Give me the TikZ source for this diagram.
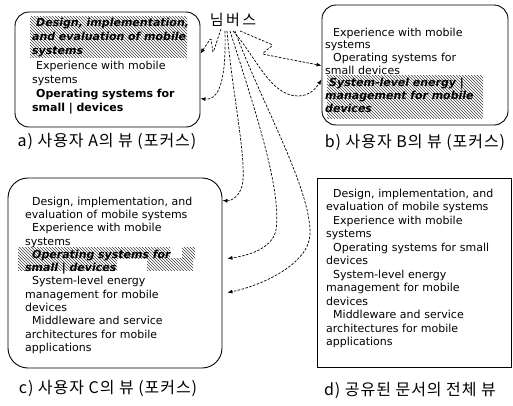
\documentclass[tikz,border=0pt]{standalone}
\usepackage{fontspec}
\setmainfont{DejaVu Sans}
\newfontfamily\krfont[LetterSpace=6]{Noto Sans CJK KR}
\newfontfamily\hubfont[LetterSpace=16]{Noto Sans CJK KR}
\usetikzlibrary{arrows.meta,patterns}
\newcommand\bi{\bfseries\itshape}

\begin{document}
\begin{tikzpicture}[x=1pt,y=-1pt,
  viewbox/.style={draw, line width=0.9pt, rounded corners=14pt, inner sep=0},
  docbox/.style={draw, line width=0.9pt, inner sep=0},
  itemtext/.style={anchor=north west, inner sep=0, align=left, text width=200pt},
  caption/.style={font=\krfont\fontsize{16}{19}\selectfont, inner sep=0},
  conn/.style={line width=0.7pt, dash pattern=on 2.5pt off 1.5pt, -{Latex[length=5pt,width=4pt]}},
  hatch/.style={pattern=north west lines, pattern color=black!75},
]
\useasboundingbox (0,0) rectangle (513,405);

% the four views of the shared document
\node[viewbox, minimum width=185, minimum height=115] (boxa) at (107.5,69.5) {};
\node[viewbox, minimum width=186, minimum height=120] (boxb) at (415,65) {};
\node[viewbox, rounded corners=20pt, minimum width=214, minimum height=190] (boxc) at (115,273) {};
\node[docbox, minimum width=194, minimum height=189] (boxd) at (414,272.5) {};

% focus highlights
\fill[hatch] (30,16) rectangle (187,57);
\fill[hatch] (327,75) rectangle (483,118);
\fill[hatch] (18,247) rectangle (170,258);
\fill[hatch] (182,247) rectangle (195,258);
\fill[hatch] (18,258) rectangle (117,270);
\fill[hatch] (147,258) rectangle (193,270);

% item lists
\node[itemtext, font=\fontsize{11}{14.3}\selectfont] (texta) at (32,17.6) {%
{\bi\hspace*{4pt}Design, implementation,}\\
{\bi and evaluation of mobile}\\
{\bi systems}\\
\hspace*{4pt}Experience with mobile\\
systems\\
{\bfseries\hspace*{4pt}Operating systems for}\\
{\bfseries small | devices}};

\node[itemtext, font=\fontsize{11}{12.7}\selectfont] (textb) at (325,27.6) {%
\hspace*{8pt}Experience with mobile\\
systems\\
\hspace*{8pt}Operating systems for\\
small devices\\
{\bi\hspace*{4pt}System-level energy |}\\
{\bi management for mobile}\\
{\bi devices}};

\node[itemtext, font=\fontsize{11}{13.3}\selectfont] (textc) at (25,196.6) {%
\hspace*{7pt}Design, implementation, and\\
evaluation of mobile systems\\
\hspace*{7pt}Experience with mobile\\
systems\\
{\bi\hspace*{7pt}Operating systems for}\\
{\bi small | devices}\\
\hspace*{7pt}System-level energy\\
management for mobile\\
devices\\
\hspace*{7pt}Middleware and service\\
architectures for mobile\\
applications};

\node[itemtext, font=\fontsize{11}{13.5}\selectfont] (textd) at (326,188.6) {%
\hspace*{7pt}Design, implementation, and\\
evaluation of mobile systems\\
\hspace*{7pt}Experience with mobile\\
systems\\
\hspace*{7pt}Operating systems for small\\
devices\\
\hspace*{7pt}System-level energy\\
management for mobile\\
devices\\
\hspace*{7pt}Middleware and service\\
architectures for mobile\\
applications};

% captions
\node[caption] (capa) at (107,141) {a) 사용자 A의 뷰 (포커스)};
\node[caption] (capb) at (415,142) {b) 사용자 B의 뷰 (포커스)};
\node[caption] (capc) at (108,388) {c) 사용자 C의 뷰 (포커스)};
\node[caption] (capd) at (410,390) {d) 공유된 문서의 전체 뷰};

% the shared document hub
\node[caption, font=\hubfont\fontsize{15}{18}\selectfont] (hub) at (233,20) {님버스};

% arrow targets on the view borders
\coordinate (ta1) at ([yshift=-42pt]boxa.north east);
\coordinate (ta2) at ([yshift=-87pt]boxa.north east);
\coordinate (tb1) at ([yshift=-61pt]boxb.north west);
\coordinate (tb2) at ([yshift=-75pt]boxb.north west);
\coordinate (tc1) at ([yshift=-23pt]boxc.north east);
\coordinate (tc2) at ([xshift=5pt,yshift=-81pt]boxc.north east);
\coordinate (tc3) at ([xshift=5pt,yshift=-115pt]boxc.north east);

% connectors from the hub
\draw[conn, rounded corners=1.5pt] ([xshift=-12pt,yshift=-2pt]hub.south) -- (213,53) -- (211,38) -- (ta1);
\draw[conn] ([xshift=-8pt,yshift=-4pt]hub.south) .. controls (226,70) and (222,101) .. (ta2);
\draw[conn, rounded corners=2pt] ([xshift=7pt,yshift=-4pt]hub.south) -- (273,45) -- (262,54) -- (tb1);
\draw[conn] ([xshift=0pt,yshift=-4pt]hub.south) .. controls (255,55) and (270,96) .. (298,96)
  .. controls (310,96) and (316,88) .. (tb2);
\draw[conn] ([xshift=-6pt,yshift=-4pt]hub.south) .. controls (232,90) and (245,150) .. (243,180)
  .. controls (242,195) and (232,201) .. (tc1);
\draw[conn] ([xshift=-3pt,yshift=-4pt]hub.south) .. controls (255,110) and (282,190) .. (276,230)
  .. controls (272,250) and (245,256) .. (tc2);
\draw[conn] ([xshift=2pt,yshift=-4pt]hub.south) .. controls (260,100) and (312,190) .. (310,235)
  .. controls (308,265) and (260,286) .. (tc3);
\end{tikzpicture}
\end{document}
